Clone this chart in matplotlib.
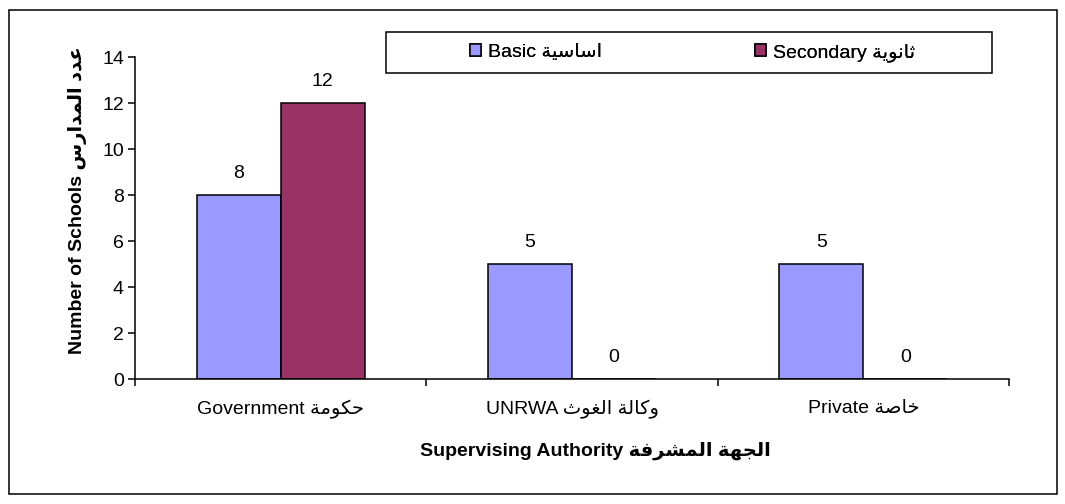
import matplotlib
matplotlib.use("Agg")
import matplotlib.pyplot as plt
from matplotlib.patches import Rectangle

# ---------------- data ----------------
categories_en = ["Government", "UNRWA", "Private"]
categories_ar = ["حكومة", "وكالة الغوث", "خاصة"]
series_en = ["Basic", "Secondary"]
series_ar = ["اساسية", "ثانوية"]
basic = [8, 5, 5]
secondary = [12, 0, 0]
y_ticks = [0, 2, 4, 6, 8, 10, 12, 14]
ylabel_en, ylabel_ar = "Number of Schools", "عدد المدارس"
xlabel_en, xlabel_ar = "Supervising Authority", "الجهة المشرفة"

# ---------------- minimal Arabic shaping (presentation forms, visual order) ----
FORMS = {  # isolated, final, initial, medial
    "ا": (0xFE8D, 0xFE8E), "ب": (0xFE8F, 0xFE90, 0xFE91, 0xFE92),
    "ة": (0xFE93, 0xFE94), "ت": (0xFE95, 0xFE96, 0xFE97, 0xFE98),
    "ث": (0xFE99, 0xFE9A, 0xFE9B, 0xFE9C), "ج": (0xFE9D, 0xFE9E, 0xFE9F, 0xFEA0),
    "ح": (0xFEA1, 0xFEA2, 0xFEA3, 0xFEA4), "خ": (0xFEA5, 0xFEA6, 0xFEA7, 0xFEA8),
    "د": (0xFEA9, 0xFEAA), "ذ": (0xFEAB, 0xFEAC), "ر": (0xFEAD, 0xFEAE),
    "ز": (0xFEAF, 0xFEB0), "س": (0xFEB1, 0xFEB2, 0xFEB3, 0xFEB4),
    "ش": (0xFEB5, 0xFEB6, 0xFEB7, 0xFEB8), "ص": (0xFEB9, 0xFEBA, 0xFEBB, 0xFEBC),
    "ض": (0xFEBD, 0xFEBE, 0xFEBF, 0xFEC0), "ط": (0xFEC1, 0xFEC2, 0xFEC3, 0xFEC4),
    "ظ": (0xFEC5, 0xFEC6, 0xFEC7, 0xFEC8), "ع": (0xFEC9, 0xFECA, 0xFECB, 0xFECC),
    "غ": (0xFECD, 0xFECE, 0xFECF, 0xFED0), "ف": (0xFED1, 0xFED2, 0xFED3, 0xFED4),
    "ق": (0xFED5, 0xFED6, 0xFED7, 0xFED8), "ك": (0xFED9, 0xFEDA, 0xFEDB, 0xFEDC),
    "ل": (0xFEDD, 0xFEDE, 0xFEDF, 0xFEE0), "م": (0xFEE1, 0xFEE2, 0xFEE3, 0xFEE4),
    "ن": (0xFEE5, 0xFEE6, 0xFEE7, 0xFEE8), "ه": (0xFEE9, 0xFEEA, 0xFEEB, 0xFEEC),
    "و": (0xFEED, 0xFEEE), "ى": (0xFEEF, 0xFEF0),
    "ي": (0xFEF1, 0xFEF2, 0xFEF3, 0xFEF4),
}


def shape_ar(s):
    out = []
    for i, c in enumerate(s):
        if c not in FORMS:
            out.append(c)
            continue
        f = FORMS[c]
        prev = s[i - 1] if i > 0 else ""
        nxt = s[i + 1] if i + 1 < len(s) else ""
        jp = prev in FORMS and len(FORMS[prev]) == 4
        jn = nxt in FORMS and len(f) == 4
        if jp and jn:
            out.append(chr(f[3]))
        elif jp:
            out.append(chr(f[1]))
        elif jn:
            out.append(chr(f[2]))
        else:
            out.append(chr(f[0]))
    return "".join(out)[::-1]


FONT = ["Liberation Sans", "DejaVu Sans"]
FS = 14
plt.rcParams["font.family"] = FONT
plt.rcParams["font.size"] = FS

W, H = 1065, 504
fig = plt.figure(figsize=(W / 100, H / 100), dpi=100)


def fx(px):
    return px / W


def fy(py):
    return 1 - py / H


ax = fig.add_axes([fx(135), fy(379), fx(1009) - fx(135), fy(57) - fy(379)])

c_basic = "#9999FF"
c_sec = "#993366"
bw = 0.288
x = list(range(len(categories_en)))
b1 = ax.bar([i - bw / 2 for i in x], basic, bw, color=c_basic, edgecolor="black", linewidth=1.1)
b2 = ax.bar([i + bw / 2 for i in x], secondary, bw, color=c_sec, edgecolor="black", linewidth=1.1)

for bars, vals in ((b1, basic), (b2, secondary)):
    for r, v in zip(bars, vals):
        ax.annotate(str(v), (r.get_x() + r.get_width() / 2, v), xytext=(0, 15.5),
                    textcoords="offset points", ha="center", va="center", fontsize=FS)

ax.set_xlim(-0.5, len(x) - 0.5)
ax.set_ylim(0, 14)
ax.set_yticks(y_ticks)
ax.set_xticks([i - 0.5 for i in range(len(x) + 1)])
ax.set_xticklabels([])
ax.set_xticks(x, minor=True)
ax.set_xticklabels([f"{e} {shape_ar(a)}" for e, a in zip(categories_en, categories_ar)], minor=True)
ax.tick_params(axis="x", which="major", length=5, width=1.1, direction="out")
ax.tick_params(axis="x", which="minor", length=0, pad=15, labelsize=FS)
ax.tick_params(axis="y", length=5, width=1.1, direction="out", pad=3, labelsize=FS)
for s in ("top", "right"):
    ax.spines[s].set_visible(False)
for s in ("left", "bottom"):
    ax.spines[s].set_linewidth(1.1)

fig.text(fx(78), fy(200), f"{ylabel_en} {shape_ar(ylabel_ar)}", rotation=90,
         ha="center", va="center", fontsize=FS, fontweight="bold")
fig.text(fx(595), fy(451), f"{xlabel_en} {shape_ar(xlabel_ar)}",
         ha="center", va="center", fontsize=FS, fontweight="bold")

# legend box
fig.patches.append(Rectangle((fx(386), fy(73)), fx(992) - fx(386), fy(32) - fy(73),
                             transform=fig.transFigure, fill=False, edgecolor="black",
                             linewidth=1.1))
# outer chart border
fig.patches.append(Rectangle((fx(9), fy(494)), fx(1057) - fx(9), fy(10) - fy(494),
                             transform=fig.transFigure, fill=False, edgecolor="black",
                             linewidth=1.1))

handles = [b1, b2]
starts = [470, 755]
for h, e, a, sx in zip(handles, series_en, series_ar, starts):
    lg = fig.legend([h], [f"{e} {shape_ar(a)}"], loc="center left",
                    bbox_to_anchor=(fx(sx), fy(52.5)), bbox_transform=fig.transFigure,
                    frameon=False, borderpad=0, borderaxespad=0, handlelength=0.56,
                    handleheight=0.56, handletextpad=0.35, fontsize=FS)
    fig.add_artist(lg)

fig.savefig("out.png", dpi=100)
